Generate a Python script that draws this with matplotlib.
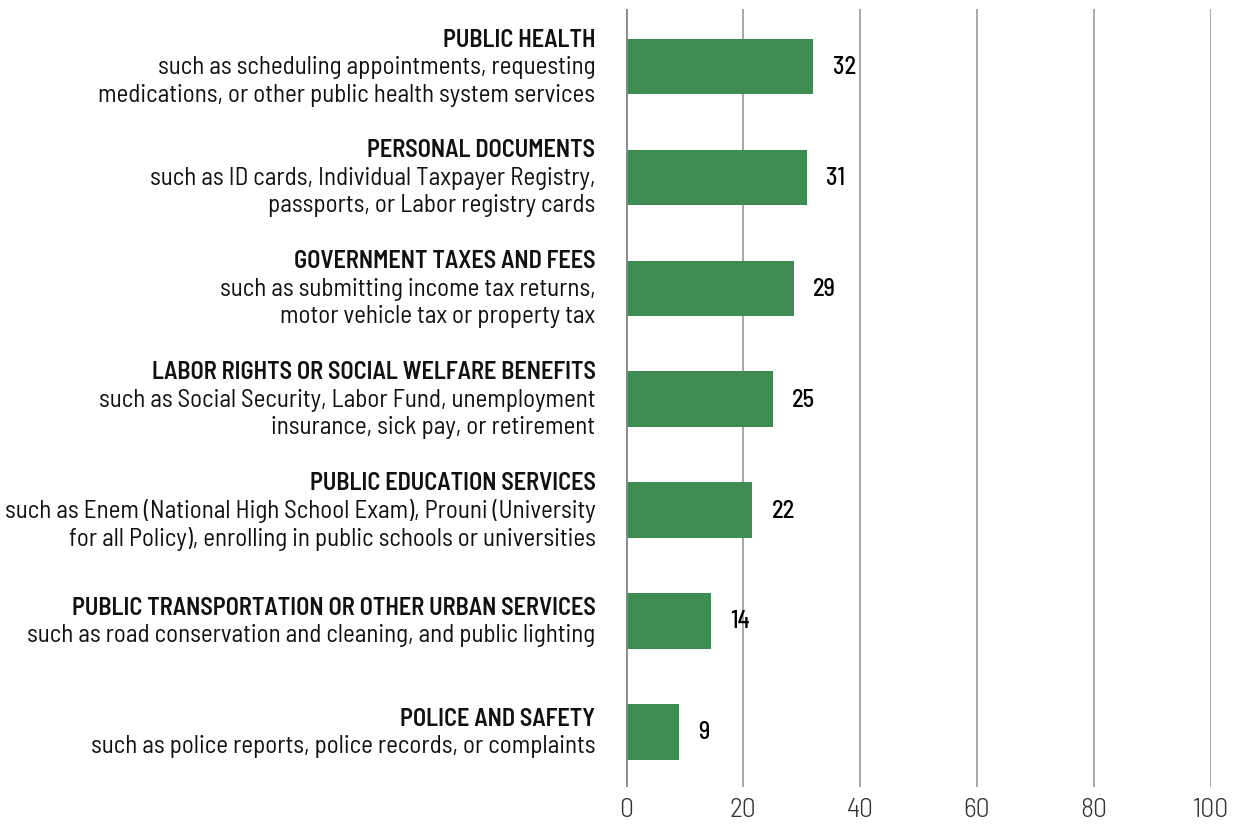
import matplotlib.pyplot as plt
from matplotlib import font_manager as fm

# survey categories, top to bottom
titles = [
    "PUBLIC HEALTH",
    "PERSONAL DOCUMENTS",
    "GOVERNMENT TAXES AND FEES",
    "LABOR RIGHTS OR SOCIAL WELFARE BENEFITS",
    "PUBLIC EDUCATION SERVICES",
    "PUBLIC TRANSPORTATION OR OTHER URBAN SERVICES",
    "POLICE AND SAFETY",
]
details = [
    ["such as scheduling appointments, requesting",
     "medications, or other public health system services"],
    ["such as ID cards, Individual Taxpayer Registry,",
     "passports, or Labor registry cards"],
    ["such as submitting income tax returns,",
     "motor vehicle tax or property tax"],
    ["such as Social Security, Labor Fund, unemployment",
     "insurance, sick pay, or retirement"],
    ["such as Enem (National High School Exam), Prouni (University",
     "for all Policy), enrolling in public schools or universities"],
    ["such as road conservation and cleaning, and public lighting"],
    ["such as police reports, police records, or complaints"],
]
values = [32.0, 30.9, 28.7, 25.1, 21.6, 14.5, 9.1]
value_labels = ["32", "31", "29", "25", "22", "14", "9"]
xticks = [0, 20, 40, 60, 80, 100]

# condensed face if we have it, otherwise shrink the fallback
have = {f.name for f in fm.fontManager.ttflist}
if "Barlow Semi Condensed" in have:
    FONT = ["Barlow Semi Condensed", "DejaVu Sans"]
    scale = 1.0
elif "Barlow Condensed" in have:
    FONT = ["Barlow Condensed", "DejaVu Sans"]
    scale = 1.05
else:
    FONT = ["DejaVu Sans"]
    scale = 0.75
plt.rcParams["font.family"] = FONT

fig = plt.figure(figsize=(12.42, 8.28), dpi=100)
ax = fig.add_axes([0.504, 0.048, 0.471, 0.94])

ypos = list(range(len(values)))
ax.barh(ypos, values, height=0.5, color="#3e8c51", zorder=3)
ax.set_ylim(len(values) - 0.5, -0.52)
ax.set_xlim(0, 100)

ax.set_xticks(xticks)
ax.set_yticks([])
ax.tick_params(axis="x", length=0, pad=7, labelsize=20 * scale,
               labelcolor="#333333")
for lab in ax.get_xticklabels():
    lab.set_fontweight(300)
ax.grid(axis="x", color="#9a9a9a", linewidth=1.2, zorder=0)
for s in ax.spines.values():
    s.set_visible(False)
ax.axvline(0, color="#888888", linewidth=2, zorder=4)

# value labels
for y, v, lab in zip(ypos, values, value_labels):
    ax.annotate(lab, xy=(v, y), xytext=(14, 0), textcoords="offset points",
                ha="left", va="center", fontsize=17.5 * scale, fontweight=500,
                color="black")

# category labels: bold title + regular detail lines, centred on bar
spacing = 19.8
for y, t, d in zip(ypos, titles, details):
    lines = [(t, 600, 17.5)] + [(s, "normal", 18) for s in d]
    n = len(lines)
    for i, (txt, w, fs) in enumerate(lines):
        off = -(i - (n - 1) / 2) * spacing
        ax.annotate(txt, xy=(0, y), xycoords=("axes fraction", "data"),
                    xytext=(-22, off), textcoords="offset points",
                    ha="right", va="center", fontsize=fs * scale,
                    fontweight=w, color="#111111", annotation_clip=False)

fig.savefig("out.png", dpi=100)
